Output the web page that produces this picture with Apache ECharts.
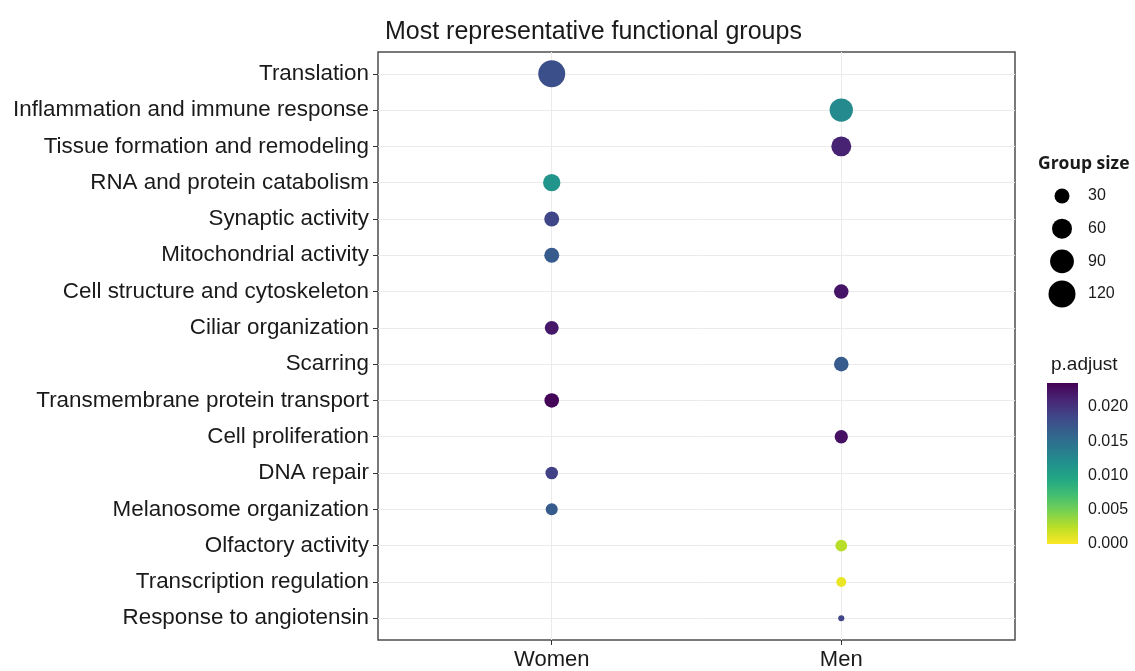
<!DOCTYPE html>
<html>
<head>
<meta charset="utf-8">
<script src="https://cdn.jsdelivr.net/npm/echarts@6/dist/echarts.min.js"></script>
<style>html,body{margin:0;padding:0;background:#fff}#c{width:1135px;height:671px}</style>
</head>
<body>
<div id="c"></div>
<script>
// ---- data ----
const categories = [
  'Translation','Inflammation and immune response','Tissue formation and remodeling',
  'RNA and protein catabolism','Synaptic activity','Mitochondrial activity',
  'Cell structure and cytoskeleton','Ciliar organization','Scarring',
  'Transmembrane protein transport','Cell proliferation','DNA repair',
  'Melanosome organization','Olfactory activity','Transcription regulation',
  'Response to angiotensin'
];
const groups = ['Women','Men'];
const groupOf = ['Women','Men','Men','Women','Women','Women','Men','Women','Men','Women','Men','Women','Women','Men','Men','Men'];
const groupSize = [120, 86, 60, 43, 30, 30, 28, 25, 28, 28, 22, 19, 17, 16, 10, 2];
const pAdjust = [0.0177, 0.0124, 0.0212, 0.0114, 0.0185, 0.0168, 0.0222, 0.0220, 0.0168, 0.0232, 0.0224, 0.0189, 0.0168, 0.0025, 0.0007, 0.0186];
const sizeBreaks = [30, 60, 90, 120];
const pTicks = [0, 0.005, 0.010, 0.015, 0.020];
const pMax = 0.02347;

const viridis = ['#fde725','#bddf26','#7ad151','#44bf70','#22a884','#21918c','#2a788e','#355f8d','#414487','#482475','#440154'];
const sizeFn = n => 3 + 2.19 * Math.sqrt(n);
const FONT = '"Liberation Sans", Arial, sans-serif';
const TXT = '#1a1a1a';

const dots = categories.map((c, i) => [groups.indexOf(groupOf[i]) + 1, i + 1, groupSize[i], pAdjust[i]]);
const catIdx = categories.map((c, i) => i + 1);
const grpIdx = groups.map((g, i) => i + 1);

const chart = echarts.init(document.getElementById('c'), null, {renderer: 'canvas'});
chart.setOption({
  backgroundColor: '#fff',
  animation: false,
  title: [
    {text: 'Most representative functional groups', left: 380, top: 15,
     textStyle: {fontFamily: FONT, fontSize: 25, fontWeight: 'normal', color: TXT}},
    {text: 'Group size', left: 1033, top: 150,
     textStyle: {fontFamily: '"Open Sans", sans-serif', fontSize: 17.5, fontWeight: 'bold', color: TXT}},
    {text: 'p.adjust', left: 1046, top: 350,
     textStyle: {fontFamily: FONT, fontSize: 19, fontWeight: 'normal', color: TXT}}
  ],
  grid: [
    {left: 378, right: 120, top: 52, bottom: 30, show: true, borderColor: '#4d4d4d', borderWidth: 1.5, backgroundColor: '#fff'},
    {left: 1047, width: 31, top: 383, height: 161},
    {left: 1050, width: 24, top: 196, height: 98}
  ],
  xAxis: [
    {type: 'value', gridIndex: 0, min: 0.4, max: 2.6,
     axisLine: {show: false},
     axisTick: {show: true, length: 5, lineStyle: {color: '#333'}, customValues: grpIdx},
     axisLabel: {customValues: grpIdx, formatter: v => groups[Math.round(v) - 1] || '',
       fontFamily: FONT, fontSize: 22, color: TXT, margin: 9},
     splitLine: {show: true, lineStyle: {color: '#ebebeb', width: 1}}},
    {type: 'category', gridIndex: 1, data: ['bar'], show: false},
    {type: 'value', gridIndex: 2, min: 0, max: 2, show: false}
  ],
  yAxis: [
    {type: 'value', gridIndex: 0, min: 0.4, max: 16.6, inverse: true,
     axisLine: {show: false},
     axisTick: {show: true, length: 5, lineStyle: {color: '#333'}, customValues: catIdx},
     axisLabel: {customValues: catIdx, formatter: v => categories[Math.round(v) - 1] || '',
       fontFamily: FONT, fontSize: 22.4, color: TXT, margin: 9, padding: [4, 0, 0, 0]},
     splitLine: {show: true, lineStyle: {color: '#ebebeb', width: 1}}},
    {type: 'value', gridIndex: 1, min: 0, max: pMax, position: 'right',
     axisLine: {show: false},
     axisTick: {show: true, inside: true, length: 6, customValues: pTicks, lineStyle: {color: '#fff', width: 1}},
     axisLabel: {customValues: pTicks, formatter: v => v.toFixed(3), fontFamily: FONT, fontSize: 16, color: TXT, margin: 10},
     splitLine: {show: false}},
    {type: 'value', gridIndex: 1, min: 0, max: pMax, position: 'left',
     axisLine: {show: false},
     axisTick: {show: true, inside: true, length: 6, customValues: pTicks, lineStyle: {color: '#fff', width: 1}},
     axisLabel: {show: false}, splitLine: {show: false}},
    {type: 'value', gridIndex: 2, min: 30, max: 120, inverse: true, position: 'right',
     axisLine: {show: false}, axisTick: {show: false},
     axisLabel: {customValues: sizeBreaks, fontFamily: FONT, fontSize: 16, color: TXT, margin: 14},
     splitLine: {show: false}}
  ],
  visualMap: [{
    type: 'continuous', show: false, seriesIndex: 0, dimension: 3,
    min: 0, max: pMax, inRange: {color: viridis}
  }],
  series: [
    {type: 'scatter', xAxisIndex: 0, yAxisIndex: 0, data: dots,
     symbolSize: d => sizeFn(d[2]), itemStyle: {opacity: 1}},
    {type: 'bar', xAxisIndex: 1, yAxisIndex: 1, data: [pMax], barWidth: '100%',
     itemStyle: {color: new echarts.graphic.LinearGradient(0, 1, 0, 0,
       viridis.map((c, i) => ({offset: i / (viridis.length - 1), color: c})))},
     silent: true},
    {type: 'scatter', xAxisIndex: 2, yAxisIndex: 3, data: sizeBreaks.map(s => [1, s]),
     symbolSize: d => sizeFn(d[1]), itemStyle: {color: '#000', opacity: 1}}
  ]
});
</script>
</body>
</html>
